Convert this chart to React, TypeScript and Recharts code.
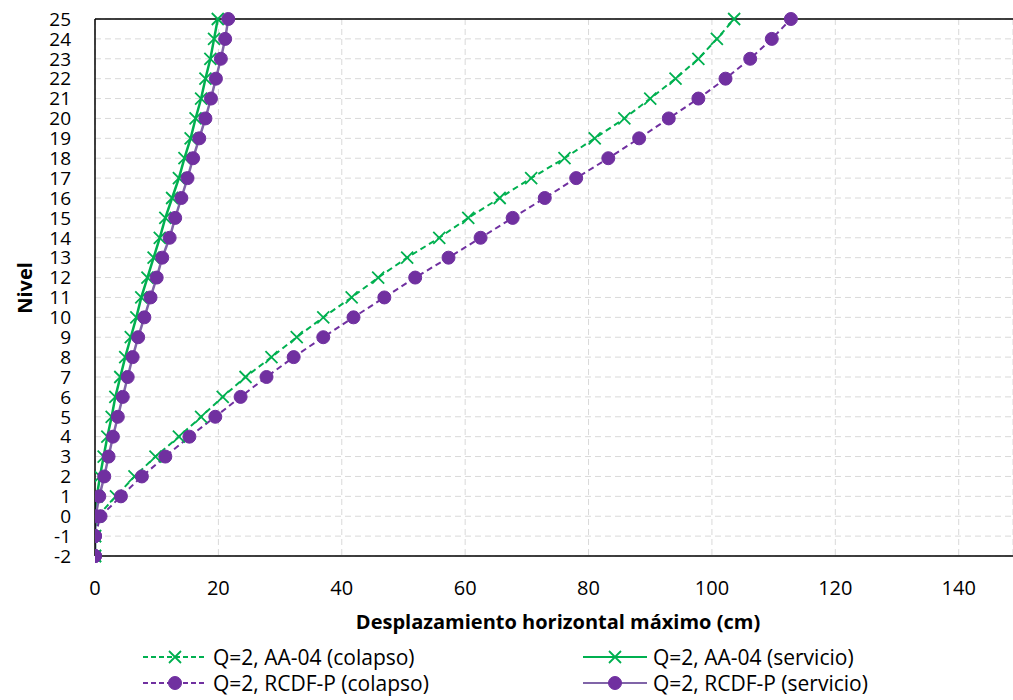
import { LineChart, Line, XAxis, YAxis, CartesianGrid, Legend, ReferenceLine } from 'recharts'

const levels = [-2, -1, 0, 1, 2, 3, 4, 5, 6, 7, 8, 9, 10, 11, 12, 13, 14, 15, 16, 17, 18, 19, 20, 21, 22, 23, 24, 25]
const aaColapso = [0, 0, 0.4, 3.4, 6.4, 9.8, 13.6, 17.2, 20.7, 24.4, 28.6, 32.7, 37.0, 41.6, 45.9, 50.6, 55.8, 60.5, 65.6, 70.7, 76.1, 81.0, 85.8, 90.0, 94.1, 97.8, 100.8, 103.6]
const aaServicio = [0, 0, 0, 0.3, 0.8, 1.4, 2.0, 2.7, 3.3, 4.1, 4.9, 5.8, 6.7, 7.5, 8.5, 9.5, 10.5, 11.4, 12.5, 13.6, 14.5, 15.5, 16.3, 17.2, 17.9, 18.7, 19.3, 19.9]
const rcdfColapso = [0, 0, 0.9, 4.2, 7.6, 11.4, 15.3, 19.5, 23.6, 27.8, 32.2, 37.0, 41.9, 46.9, 51.9, 57.3, 62.5, 67.7, 72.9, 78.0, 83.2, 88.2, 93.0, 97.8, 102.2, 106.2, 109.7, 112.8]
const rcdfServicio = [0, 0, 0.1, 0.7, 1.5, 2.2, 2.9, 3.7, 4.5, 5.3, 6.1, 7.0, 8.0, 9.0, 10.0, 10.9, 12.1, 13.0, 14.0, 15.0, 15.9, 16.9, 17.9, 18.8, 19.6, 20.4, 21.1, 21.6]
const xTicks = [0, 20, 40, 60, 80, 100, 120, 140]

const data = levels.map((level, i) => ({
  level,
  aaColapso: aaColapso[i],
  aaServicio: aaServicio[i],
  rcdfColapso: rcdfColapso[i],
  rcdfServicio: rcdfServicio[i],
}))

const GREEN = '#00B050'
const PURPLE = '#7030A0'
const PURPLE_LIGHT = '#8064A8'
const FONT = '"Open Sans", Lato, sans-serif'

const series = [
  { key: 'aaColapso', name: 'Q=2, AA-04 (colapso)', color: GREEN, line: GREEN, dashed: true, marker: 'x' },
  { key: 'aaServicio', name: 'Q=2, AA-04 (servicio)', color: GREEN, line: GREEN, dashed: false, marker: 'x' },
  { key: 'rcdfColapso', name: 'Q=2, RCDF-P (colapso)', color: PURPLE, line: PURPLE, dashed: true, marker: 'o' },
  { key: 'rcdfServicio', name: 'Q=2, RCDF-P (servicio)', color: PURPLE, line: PURPLE_LIGHT, dashed: false, marker: 'o' },
]

function Marker({ cx, cy, type, color }: { cx: number; cy: number; type: string; color: string }) {
  if (type === 'x') {
    const s = 6
    return (
      <path
        d={`M${cx - s},${cy - s}L${cx + s},${cy + s}M${cx - s},${cy + s}L${cx + s},${cy - s}`}
        stroke={color}
        strokeWidth={1.8}
        fill="none"
      />
    )
  }
  return <circle cx={cx} cy={cy} r={6.5} fill={color} stroke={color} />
}

function renderDot(type: string, color: string) {
  return (props: any) => {
    const { cx, cy, index } = props
    if (cx == null || cy == null) return <g key={index} />
    return (
      <g key={index}>
        <Marker cx={cx} cy={cy} type={type} color={color} />
      </g>
    )
  }
}

function LegendContent() {
  const pos = [
    { left: 143, top: 14 },
    { left: 583, top: 14 },
    { left: 143, top: 40 },
    { left: 583, top: 40 },
  ]
  return (
    <div style={{ position: 'relative', width: 1013, height: 70 }}>
      {series.map((s, i) => (
        <div
          key={s.key}
          style={{
            position: 'absolute',
            left: pos[i].left,
            top: pos[i].top,
            display: 'flex',
            alignItems: 'center',
            fontFamily: FONT,
            fontSize: 21,
            lineHeight: '26px',
            color: '#000',
            whiteSpace: 'nowrap',
          }}
        >
          <svg width={64} height={20} style={{ marginRight: 6 }}>
            <line
              x1={0}
              y1={10}
              x2={64}
              y2={10}
              stroke={s.line}
              strokeWidth={2}
              strokeDasharray={s.dashed ? '5 3' : undefined}
            />
            <Marker cx={32} cy={10} type={s.marker} color={s.color} />
          </svg>
          <span>{s.name}</span>
        </div>
      ))}
    </div>
  )
}

export default function App() {
  return (
    <div style={{ position: 'absolute', left: 0, top: 0, width: 1013, height: 700, background: '#fff' }}>
      <LineChart
        width={1013}
        height={700}
        data={data}
        layout="vertical"
        margin={{ top: 19, right: 0, left: 0, bottom: 0 }}
      >
        <CartesianGrid stroke="#d9d9d9" strokeDasharray="6 4" />
        <XAxis
          type="number"
          domain={[0, 148.8]}
          ticks={xTicks}
          allowDataOverflow
          height={74}
          axisLine={{ stroke: '#000', strokeWidth: 1.5 }}
          tickLine={false}
          tickSize={0}
          tickMargin={25}
          tick={{ fill: '#000', fontSize: 20, fontFamily: FONT }}
          label={{
            content: () => (
              <text
                x={558}
                y={629}
                textAnchor="middle"
                fontFamily={FONT}
                fontSize={20}
                fontWeight="bold"
                fill="#000"
              >
                Desplazamiento horizontal máximo (cm)
              </text>
            ),
          }}
        />
        <YAxis
          type="number"
          dataKey="level"
          domain={[-2, 25]}
          ticks={levels}
          interval={0}
          reversed
          width={95}
          axisLine={{ stroke: '#000', strokeWidth: 1.5 }}
          tickLine={false}
          tickSize={0}
          tickMargin={24}
          tick={{ fill: '#000', fontSize: 19, fontFamily: FONT }}
          label={{
            content: () => (
              <text
                x={32}
                y={288}
                transform="rotate(-90 32 288)"
                textAnchor="middle"
                fontFamily={FONT}
                fontSize={20}
                fontWeight="bold"
                fill="#000"
              >
                Nivel
              </text>
            ),
          }}
        />
        <ReferenceLine y={25} stroke="#000" strokeWidth={1.5} />
        <Legend
          verticalAlign="bottom"
          content={() => <LegendContent />}
          wrapperStyle={{ left: 0, width: 1013, height: 70 }}
        />
        {series.map((s) => (
          <Line
            key={s.key}
            dataKey={s.key}
            name={s.name}
            type="linear"
            stroke={s.line}
            strokeWidth={s.dashed ? 2 : 2.5}
            strokeDasharray={s.dashed ? '6 4' : undefined}
            dot={renderDot(s.marker, s.color)}
            activeDot={false}
            isAnimationActive={false}
          />
        ))}
      </LineChart>
    </div>
  )
}
